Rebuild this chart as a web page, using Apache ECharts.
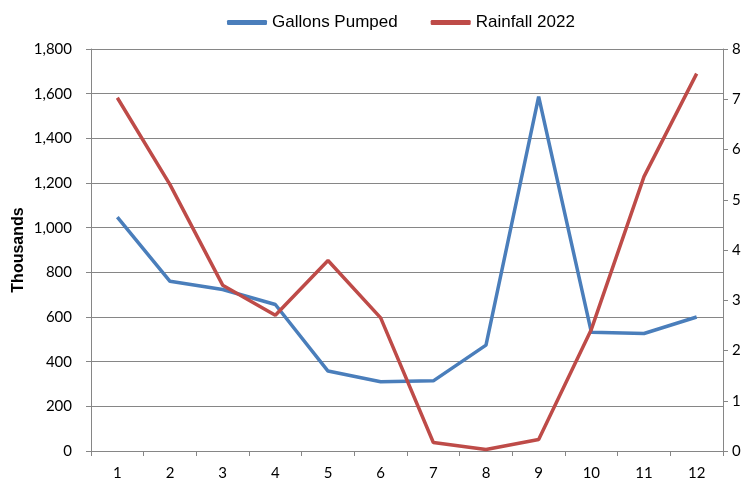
<!DOCTYPE html>
<html>
<head>
<meta charset="utf-8">
<script src="https://cdn.jsdelivr.net/npm/echarts@6/dist/echarts.min.js"></script>
<style>
  html, body { margin: 0; padding: 0; background: #fff; }
  #chart { width: 756px; height: 485px; }
</style>
</head>
<body>
<div id="chart"></div>
<script>
const months = ['1', '2', '3', '4', '5', '6', '7', '8', '9', '10', '11', '12'];
const gallonsPumped = [1047, 760, 723, 656, 358, 310, 314, 474, 1587, 532, 526, 600];
const rainfall2022 = [7.03, 5.3, 3.3, 2.7, 3.79, 2.65, 0.17, 0.03, 0.23, 2.42, 5.46, 7.51];

const tickFont = 'Lato, "Open Sans", sans-serif';
const labelFont = '"Liberation Sans", Arial, sans-serif';
const gray = '#868686';

const chart = echarts.init(document.getElementById('chart'));
chart.setOption({
  animation: false,
  textStyle: { fontFamily: tickFont },
  legend: {
    top: 9,
    left: 222,
    itemWidth: 40,
    itemHeight: 5,
    itemGap: 33,
    icon: 'roundRect',
    textStyle: { fontSize: 17, color: '#000', fontFamily: labelFont },
    data: ['Gallons Pumped', 'Rainfall 2022']
  },
  grid: { left: 91, right: 33, top: 49, bottom: 34 },
  xAxis: {
    type: 'category',
    data: months,
    boundaryGap: true,
    axisLine: { lineStyle: { color: gray } },
    axisTick: { show: true, length: 5, lineStyle: { color: gray } },
    axisLabel: { color: '#000', fontSize: 15, margin: 15 }
  },
  yAxis: [
    {
      type: 'value',
      min: 0,
      max: 1800,
      interval: 200,
      name: 'Thousands',
      nameLocation: 'middle',
      nameGap: 64,
      nameMoveOverlap: false,
      nameTextStyle: { fontWeight: 'bold', fontSize: 16, color: '#000', fontFamily: labelFont },
      axisLine: { show: true, lineStyle: { color: gray } },
      axisTick: { show: true, length: 5, lineStyle: { color: gray } },
      splitLine: { lineStyle: { color: gray } },
      axisLabel: {
        color: '#000',
        fontSize: 15,
        margin: 19,
        formatter: v => v.toLocaleString('en-US')
      }
    },
    {
      type: 'value',
      min: 0,
      max: 8,
      interval: 1,
      position: 'right',
      axisLine: { show: true, lineStyle: { color: gray } },
      axisTick: { show: true, length: 5, lineStyle: { color: gray } },
      splitLine: { show: false },
      axisLabel: { color: '#000', fontSize: 15, margin: 9 }
    }
  ],
  series: [
    {
      name: 'Gallons Pumped',
      type: 'line',
      data: gallonsPumped,
      yAxisIndex: 0,
      showSymbol: false,
      symbol: 'none',
      lineStyle: { color: '#4a7ebb', width: 3.5 },
      itemStyle: { color: '#4a7ebb' }
    },
    {
      name: 'Rainfall 2022',
      type: 'line',
      data: rainfall2022,
      yAxisIndex: 1,
      showSymbol: false,
      symbol: 'none',
      lineStyle: { color: '#be4b48', width: 3.5 },
      itemStyle: { color: '#be4b48' }
    }
  ]
});
</script>
</body>
</html>
